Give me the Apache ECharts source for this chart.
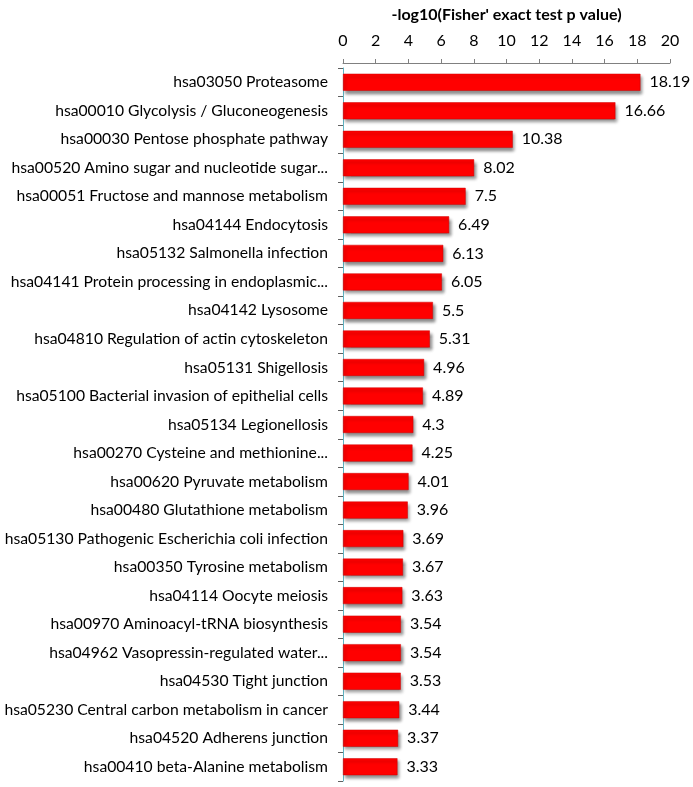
<!DOCTYPE html>
<html>
<head>
<meta charset="utf-8">
<script src="https://cdn.jsdelivr.net/npm/echarts@6/dist/echarts.min.js"></script>
<style>html,body{margin:0;padding:0;background:#fff;}#c{width:693px;height:787px;}</style>
</head>
<body>
<div id="c"></div>
<script>
const categories = [
  "hsa03050 Proteasome",
  "hsa00010 Glycolysis / Gluconeogenesis",
  "hsa00030 Pentose phosphate pathway",
  "hsa00520 Amino sugar and nucleotide sugar...",
  "hsa00051 Fructose and mannose metabolism",
  "hsa04144 Endocytosis",
  "hsa05132 Salmonella infection",
  "hsa04141 Protein processing in endoplasmic...",
  "hsa04142 Lysosome",
  "hsa04810 Regulation of actin cytoskeleton",
  "hsa05131 Shigellosis",
  "hsa05100 Bacterial invasion of epithelial cells",
  "hsa05134 Legionellosis",
  "hsa00270 Cysteine and methionine...",
  "hsa00620 Pyruvate metabolism",
  "hsa00480 Glutathione metabolism",
  "hsa05130 Pathogenic Escherichia coli infection",
  "hsa00350 Tyrosine metabolism",
  "hsa04114 Oocyte meiosis",
  "hsa00970 Aminoacyl-tRNA biosynthesis",
  "hsa04962 Vasopressin-regulated water...",
  "hsa04530 Tight junction",
  "hsa05230 Central carbon metabolism in cancer",
  "hsa04520 Adherens junction",
  "hsa00410 beta-Alanine metabolism"
];
const values = [18.19, 16.66, 10.38, 8.02, 7.5, 6.49, 6.13, 6.05, 5.5, 5.31, 4.96, 4.89, 4.3, 4.25, 4.01, 3.96, 3.69, 3.67, 3.63, 3.54, 3.54, 3.53, 3.44, 3.37, 3.33];
const axisTitle = "-log10(Fisher' exact test p value)";

const FONT = 'Lato';
const chart = echarts.init(document.getElementById('c'), null, {renderer: 'canvas'});
chart.setOption({
  backgroundColor: '#ffffff',
  animation: false,
  grid: {left: 343, right: 23, top: 68, bottom: 6, containLabel: false, outerBoundsMode: 'none'},
  xAxis: {
    type: 'value', position: 'top', min: 0, max: 20, interval: 2,
    offset: 5,
    name: axisTitle, nameLocation: 'middle', nameGap: 40,
    nameTextStyle: {fontFamily: FONT, fontSize: 16, fontWeight: 'bold', color: '#000'},
    axisLine: {show: true, lineStyle: {color: '#808080', width: 1}},
    axisTick: {show: true, inside: false, length: 4, lineStyle: {color: '#808080'}},
    axisLabel: {fontFamily: FONT, fontSize: 16, color: '#000', margin: 14},
    splitLine: {show: false}
  },
  yAxis: {
    type: 'category', inverse: true, data: categories,
    axisLine: {show: true, lineStyle: {color: '#5fb5c4', width: 1}},
    axisTick: {show: true, length: 5, lineStyle: {color: '#606060'}},
    axisLabel: {fontFamily: FONT, fontSize: 15.7, color: '#000', margin: 15},
    splitLine: {show: false}
  },
  series: [{
    type: 'bar', data: values, barWidth: 17,
    itemStyle: {
      color: '#ff0000', borderColor: '#d00000', borderWidth: 0.5,
      shadowColor: 'rgba(0,0,0,0.45)', shadowBlur: 3, shadowOffsetX: 2, shadowOffsetY: 3
    },
    label: {show: true, position: 'right', distance: 9, fontFamily: FONT, fontSize: 16, color: '#000'}
  }]
});
</script>
</body>
</html>
